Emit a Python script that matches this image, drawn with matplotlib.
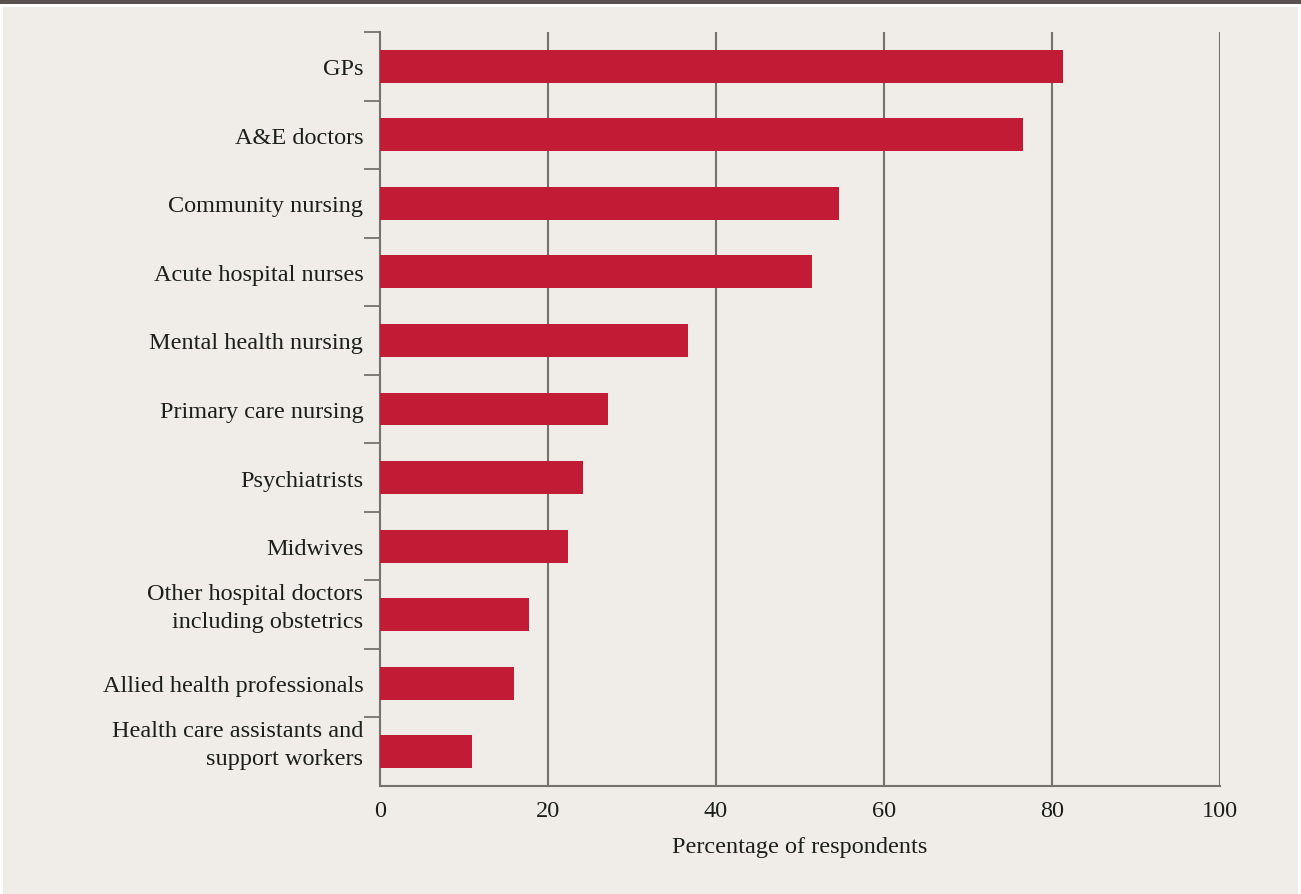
import matplotlib
matplotlib.use("Agg")
import matplotlib.pyplot as plt
from matplotlib.patches import Rectangle
from matplotlib.transforms import ScaledTranslation

categories = ["GPs", "A&E doctors", "Community nursing", "Acute hospital nurses",
              "Mental health nursing", "Primary care nursing", "Psychiatrists",
              "Midwives", "Other hospital doctors\nincluding obstetrics",
              "Allied health professionals",
              "Health care assistants and\nsupport workers"]
values = [81.3, 76.5, 54.6, 51.4, 36.7, 27.1, 24.2, 22.4, 17.7, 16.0, 11.0]
xticks = [0, 20, 40, 60, 80, 100]
xlabel = "Percentage of respondents"

BG = "#f0ede8"
BAR = "#c11b35"
GRID = "#77716e"
TXT = "#1b1f1b"

plt.rcParams['font.family'] = ['Liberation Serif', 'DejaVu Serif']

W, H = 1301, 895
fig = plt.figure(figsize=(W / 100, H / 100), dpi=100)
fig.patch.set_facecolor("white")
fig.add_artist(Rectangle((3 / W, 0), (1298 - 3) / W, 1 - 8 / H,
                         transform=fig.transFigure, facecolor=BG, edgecolor="none", zorder=0))
fig.add_artist(Rectangle((0, 1 - 5 / H), 1, 5 / H,
                         transform=fig.transFigure, facecolor="#5a5250", edgecolor="none", zorder=0))

left, right, top, bottom = 380, 1220, 33, 787
ax = fig.add_axes([left / W, 1 - bottom / H, (right - left) / W, (bottom - top) / H])
ax.set_facecolor("none")

n = len(categories)
ypos = list(range(n))
ax.barh(ypos, values, height=0.48, color=BAR, zorder=3)
ax.set_ylim(n - 0.5, -0.5)
ax.set_xlim(0, 100)

for x in xticks[1:]:
    ax.axvline(x, color=GRID, lw=1.5, zorder=1)

ax.set_yticks(ypos)
ax.set_yticklabels(categories, fontsize=17.5, color=TXT, linespacing=1.45)
ax.tick_params(axis="y", length=0, pad=12)
for lab in ax.get_yticklabels():
    if "\n" in lab.get_text():
        lab.set_transform(lab.get_transform() +
                          ScaledTranslation(0, 0.13, fig.dpi_scale_trans))
# boundary tick marks on the left
ax.set_yticks([i - 0.5 for i in range(n)], minor=True)
ax.tick_params(axis="y", which="minor", length=11.5, width=1.3, color=GRID)

ax.set_xticks(xticks)
ax.set_xticklabels([str(v) for v in xticks], fontsize=17.5, color=TXT)
ax.tick_params(axis="x", length=0, pad=10)
ax.set_xlabel(xlabel, fontsize=17.5, color=TXT, labelpad=11)

for s in ["top", "right"]:
    ax.spines[s].set_visible(False)
for s in ["left", "bottom"]:
    ax.spines[s].set_color(GRID)
    ax.spines[s].set_linewidth(1.5)

fig.savefig("out.png", dpi=100, facecolor=fig.get_facecolor())
